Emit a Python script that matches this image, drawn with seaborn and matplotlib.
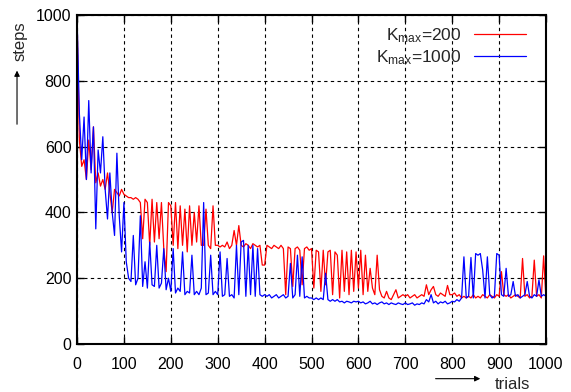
import numpy as np
import pandas as pd
import seaborn as sns
import matplotlib.pyplot as plt

# trial numbers (sampled every 5 trials)
trials = list(range(0, 1001, 5))

# steps per trial, K_max = 200 (red)
red_steps = [
    1000, 620, 540, 560, 500, 620, 530, 660, 490, 520, 480, 500, 470, 520, 460, 400, 470, 460, 450, 470,
    455, 450, 445, 445, 440, 445, 440, 430, 320, 440, 430, 300, 440, 310, 430, 320, 430, 290, 220, 430,
    420, 300, 430, 290, 420, 300, 410, 280, 420, 300, 400, 310, 420, 300, 300, 410, 300, 290, 420, 300,
    300, 295, 300, 295, 310, 290, 300, 345, 300, 360, 300, 295, 305, 300, 290, 305, 300, 295, 300, 240,
    240, 300, 295, 290, 300, 295, 290, 300, 290, 150, 295, 290, 175, 290, 295, 285, 180, 290, 295, 285,
    290, 170, 285, 280, 160, 285, 180, 280, 285, 150, 280, 270, 140, 285, 160, 280, 150, 285, 160, 280,
    170, 285, 150, 270, 160, 230, 170, 150, 270, 165, 145, 140, 160, 140, 135, 150, 165, 140, 145, 150,
    145, 150, 140, 145, 150, 140, 145, 150, 145, 180, 150, 165, 175, 150, 145, 155, 150, 145, 178, 150,
    150, 155, 145, 150, 140, 145, 140, 145, 140, 150, 140, 145, 140, 150, 145, 140, 150, 145, 140, 150,
    145, 220, 150, 145, 150, 140, 145, 150, 145, 140, 260, 145, 150, 140, 145, 255, 145, 150, 140, 268,
    135,
]

# steps per trial, K_max = 1000 (blue)
blue_steps = [
    1000, 700, 560, 690, 500, 740, 520, 660, 350, 590, 520, 630, 470, 380, 520, 400, 330, 580, 390, 280,
    430, 250, 200, 190, 330, 180, 200, 390, 175, 250, 170, 310, 180, 175, 300, 170, 185, 290, 165, 200,
    160, 290, 155, 170, 160, 280, 150, 160, 155, 270, 150, 160, 150, 170, 430, 150, 155, 270, 150, 160,
    150, 280, 145, 150, 260, 145, 150, 140, 300, 150, 310, 315, 145, 300, 150, 300, 145, 290, 150, 145,
    150, 145, 150, 140, 145, 150, 140, 145, 150, 140, 145, 245, 140, 150, 270, 145, 265, 140, 145, 140,
    140, 135, 140, 135, 140, 135, 215, 135, 130, 135, 130, 135, 128, 130, 125, 130, 128, 125, 130, 128,
    130, 125, 128, 122, 125, 130, 122, 125, 120, 125, 128, 122, 125, 120, 125, 122, 120, 125, 122, 120,
    125, 120, 122, 125, 118, 122, 120, 125, 122, 135, 128, 150, 125, 130, 122, 128, 125, 130, 122, 125,
    130, 128, 135, 130, 140, 265, 140, 145, 263, 140, 275, 270, 275, 225, 140, 265, 150, 140, 145, 275,
    270, 150, 145, 230, 145, 150, 190, 145, 150, 140, 145, 150, 190, 145, 140, 150, 145, 195, 145, 150,
    145,
]

labels = [r'K$_{\rm max}$=200', r'K$_{\rm max}$=1000']
x_ticks = list(range(0, 1001, 100))
y_ticks = list(range(0, 1001, 200))

sns.set_style('ticks')
plt.rcParams['font.family'] = ['Liberation Sans', 'DejaVu Sans']
plt.rcParams['mathtext.fontset'] = 'custom'
plt.rcParams['mathtext.rm'] = 'Liberation Sans'
plt.rcParams['mathtext.it'] = 'Liberation Sans:italic'

red_df = pd.DataFrame({'trials': trials, 'steps': red_steps})
blue_df = pd.DataFrame({'trials': trials, 'steps': blue_steps})

fig = plt.figure(figsize=(5.71, 3.92), dpi=100)
ax = fig.add_axes([0.1349, 0.1224, 0.8213, 0.8393])

sns.lineplot(data=red_df, x='trials', y='steps', color='#ff0000', linewidth=0.9,
             label=labels[0], ax=ax)
sns.lineplot(data=blue_df, x='trials', y='steps', color='#0000ff', linewidth=0.9,
             label=labels[1], ax=ax)

ax.set_xlim(0, 1000)
ax.set_ylim(0, 1000)
ax.set_xticks(x_ticks)
ax.set_yticks(y_ticks)
ax.set_xlabel('')
ax.set_ylabel('')
ax.grid(True, color='black', linestyle=(0, (3, 3)), linewidth=0.8)
ax.set_axisbelow(True)
for s in ax.spines.values():
    s.set_linewidth(1.5)
    s.set_color('black')
ax.tick_params(direction='in', length=5, width=1, top=True, right=True,
               labelsize=11.5, colors='black')
ax.tick_params(axis='x', pad=9)
ax.tick_params(axis='y', pad=4)

ax.legend(loc='upper right', bbox_to_anchor=(0.957, 0.965), frameon=False,
          markerfirst=False, handlelength=3.0, handletextpad=0.7,
          labelspacing=0.15, borderpad=0, borderaxespad=0, fontsize=12.5)

# axis labels with gnuplot style arrows
fig.text(0.036, 0.895, 'steps', rotation=90, ha='center', va='center', fontsize=12)
fig.patches.append(plt.matplotlib.patches.FancyArrowPatch(
    (0.0298, 0.676), (0.0298, 0.827), transform=fig.transFigure,
    arrowstyle='-|>', mutation_scale=8, linewidth=0.8, color='black'))
fig.text(0.897, 0.020, 'trials', ha='center', va='center', fontsize=12)
fig.patches.append(plt.matplotlib.patches.FancyArrowPatch(
    (0.758, 0.034), (0.846, 0.034), transform=fig.transFigure,
    arrowstyle='-|>', mutation_scale=8, linewidth=0.8, color='black'))

fig.savefig('out.png', dpi=100)
